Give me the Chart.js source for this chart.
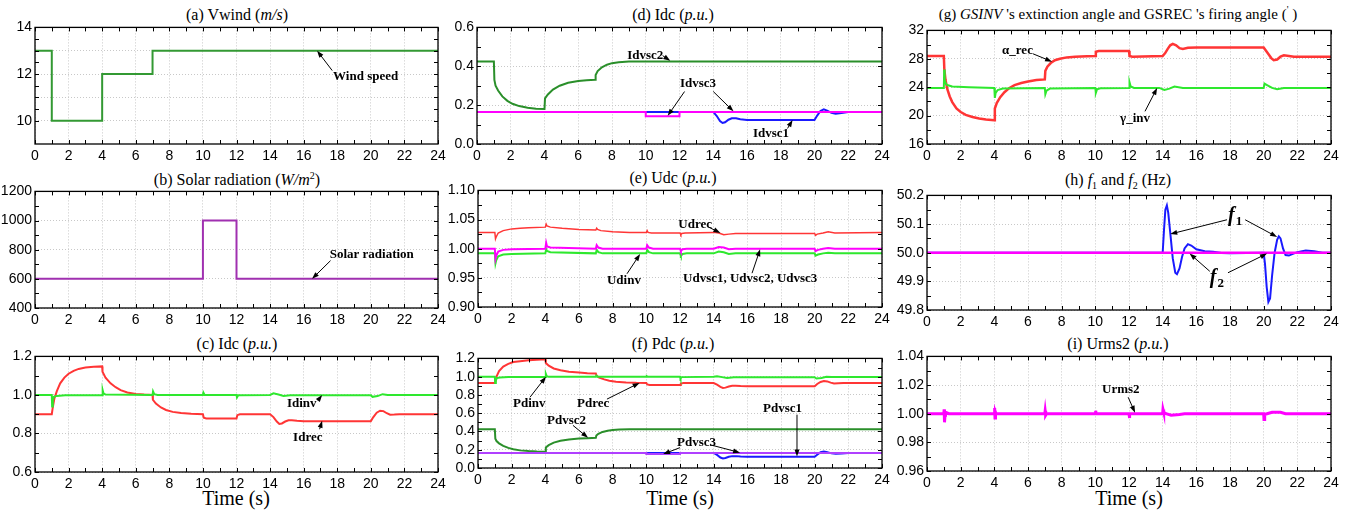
<!DOCTYPE html>
<html>
<head>
<meta charset="utf-8">
<script src="https://cdn.jsdelivr.net/npm/chart.js@4.4.1/dist/chart.umd.min.js"></script>
<style>
  body { margin: 0; background: #fff; width: 1352px; height: 512px; position: relative; overflow: hidden; }
  .ttl { position: absolute; font-family: "Liberation Serif", serif; font-size: 16px; line-height: 1; white-space: nowrap; transform: translateX(-50%); color: #000; }
  .ttl sub, .ttl sup { font-size: 10px; line-height: 0; }
  .timelbl { position: absolute; font-family: "Liberation Serif", "Times New Roman", serif; font-weight: normal; font-size: 20px; line-height: 1; white-space: nowrap; transform: translateX(-50%); color: #000; }
</style>
</head>
<body>
<div class="ttl" style="left:237px;top:7px">(a) Vwind (<i>m/s</i>)</div>
<div class="ttl" style="left:237px;top:172px">(b) Solar radiation (<i>W/m</i><sup>2</sup>)</div>
<div class="ttl" style="left:237px;top:336px">(c) Idc (<i>p.u.</i>)</div>
<div class="ttl" style="left:673px;top:7px">(d) Idc (<i>p.u.</i>)</div>
<div class="ttl" style="left:673px;top:170px">(e) Udc (<i>p.u.</i>)</div>
<div class="ttl" style="left:673px;top:336px">(f) Pdc (<i>p.u.</i>)</div>
<div class="ttl" style="left:1118px;top:7px;font-size:15px">(g) <i>GSINV</i> 's extinction angle and GSREC 's firing angle (<sup>'</sup> )</div>
<div class="ttl" style="left:1118px;top:172px">(h) <i>f</i><sub>1</sub> and <i>f</i><sub>2</sub> (Hz)</div>
<div class="ttl" style="left:1118px;top:336px">(i) Urms2 (<i>p.u.</i>)</div>
<div class="timelbl" style="left:236px;top:488px">Time (s)</div>
<div class="timelbl" style="left:680px;top:488px">Time (s)</div>
<div class="timelbl" style="left:1129px;top:488px">Time (s)</div>
<script>
// ---- data ----
var xTicks = [0, 2, 4, 6, 8, 10, 12, 14, 16, 18, 20, 22, 24];

// (a) wind speed
var tWind = [0, 1, 1, 4, 4, 7, 7, 24];
var windSpeed = [13, 13, 10, 10, 12, 12, 13, 13];
var yTicksA = [10, 11, 12, 13, 14];

// (b) solar radiation
var tSolar = [0, 10, 10, 12, 12, 24];
var solar = [600, 600, 1000, 1000, 600, 600];
var yTicksB = [400, 600, 800, 1000, 1200];

// (c) Idc
var tIdrec = [0, 1, 1.05, 1.15, 1.3, 1.5, 1.75, 2, 2.3, 2.6, 3, 3.5, 4, 4.02, 4.2, 4.5, 4.8, 5.1, 5.5, 6, 6.5, 7, 7.02, 7.2, 7.5, 7.8, 8.2, 8.7, 9.3, 10, 10.05, 10.2, 12, 12.05, 12.2, 14, 14.2, 14.4, 14.55, 14.7, 14.9, 15.1, 15.3, 15.6, 16, 20, 20.15, 20.35, 20.55, 20.75, 20.95, 21.15, 21.4, 21.7, 24];
var idrec = [0.9, 0.9, 0.93, 0.98, 1.02, 1.06, 1.09, 1.11, 1.125, 1.135, 1.142, 1.146, 1.148, 1.12, 1.09, 1.06, 1.04, 1.025, 1.013, 1.005, 1.002, 1.0, 0.975, 0.955, 0.935, 0.922, 0.912, 0.906, 0.902, 0.9, 0.882, 0.878, 0.878, 0.895, 0.9, 0.9, 0.885, 0.862, 0.849, 0.852, 0.862, 0.868, 0.869, 0.866, 0.864, 0.864, 0.885, 0.908, 0.918, 0.916, 0.905, 0.897, 0.898, 0.9, 0.9];
var tIdinv = [0, 1, 1.02, 1.06, 1.12, 1.3, 1.8, 4, 4.03, 4.08, 4.2, 7, 7.03, 7.1, 7.3, 10, 10.03, 10.1, 12, 12.03, 12.1, 14, 14.2, 14.5, 14.8, 15.2, 20, 20.1, 20.4, 20.7, 21, 21.5, 24];
var idinv = [1.0, 1.0, 0.94, 0.97, 0.99, 0.995, 0.998, 0.998, 1.025, 1.008, 1.002, 1.0, 1.018, 1.004, 1.0, 1.0, 1.012, 1.0, 1.0, 0.987, 0.998, 1.0, 1.008, 1.002, 0.995, 0.998, 0.998, 0.99, 0.994, 1.004, 1.0, 1.0, 1.0];
var yTicksC = [0.6, 0.8, 1.0, 1.2];

// (d) Idc of the VSCs
var tVsc2 = [0, 1, 1.03, 1.1, 1.25, 1.5, 1.8, 2.1, 2.5, 3, 3.5, 4, 4.03, 4.2, 4.5, 4.9, 5.4, 6, 6.5, 7, 7.03, 7.15, 7.4, 7.7, 8, 8.4, 9, 10, 24];
var idvsc2 = [0.425, 0.425, 0.33, 0.3, 0.275, 0.245, 0.222, 0.207, 0.195, 0.187, 0.182, 0.18, 0.235, 0.255, 0.28, 0.3, 0.315, 0.324, 0.328, 0.33, 0.355, 0.375, 0.395, 0.408, 0.416, 0.421, 0.424, 0.425, 0.425];
var tVsc1 = [0, 14, 14.2, 14.4, 14.55, 14.7, 14.9, 15.1, 15.35, 15.6, 16, 20, 20.15, 20.35, 20.55, 20.75, 21, 21.25, 21.6, 22, 24];
var idvsc1 = [0.165, 0.165, 0.145, 0.118, 0.108, 0.112, 0.125, 0.132, 0.132, 0.127, 0.124, 0.124, 0.145, 0.17, 0.178, 0.172, 0.16, 0.156, 0.16, 0.165, 0.165];
var tVsc3 = [0, 10, 10, 12, 12, 24];
var idvsc3 = [0.165, 0.165, 0.143, 0.143, 0.165, 0.165];
var yTicksD = [0, 0.2, 0.4, 0.6];

// (e) Udc
var tUdc = [0, 1, 1.04, 1.08, 1.2, 1.5, 2, 2.5, 3, 4, 4.05, 4.1, 4.3, 5, 6, 7, 7.05, 7.1, 7.3, 8, 9, 10, 10.05, 10.1, 10.3, 12, 12.05, 12.1, 12.3, 14, 14.3, 14.6, 14.9, 15.3, 20, 20.05, 20.15, 20.5, 20.8, 21.2, 24];
var udrec = [1.028, 1.028, 1.017, 1.02, 1.027, 1.031, 1.034, 1.035, 1.036, 1.037, 1.042, 1.039, 1.037, 1.035, 1.033, 1.032, 1.035, 1.033, 1.031, 1.029, 1.028, 1.028, 1.031, 1.028, 1.027, 1.027, 1.024, 1.026, 1.027, 1.028, 1.027, 1.024, 1.025, 1.026, 1.026, 1.023, 1.025, 1.027, 1.029, 1.027, 1.028];
var tUdv = [0, 1, 1.04, 1.08, 1.2, 1.5, 2, 4, 4.05, 4.1, 4.3, 7, 7.05, 7.15, 7.4, 10, 10.05, 10.15, 10.4, 12, 12.05, 12.15, 12.4, 14, 14.3, 14.6, 14.9, 15.3, 20, 20.05, 20.2, 20.5, 20.8, 21.2, 24];
var udvsc = [1.0, 1.0, 0.983, 0.988, 0.995, 0.998, 0.999, 1.0, 1.01, 1.004, 1.002, 1.0, 1.006, 1.002, 1.0, 1.0, 1.006, 1.002, 1.0, 1.0, 0.996, 0.999, 1.0, 1.0, 1.003, 1.002, 0.999, 1.0, 1.0, 0.996, 0.998, 1.0, 1.001, 1.0, 1.0];
var udinv = [0.992, 0.992, 0.975, 0.98, 0.987, 0.99, 0.991, 0.992, 0.999, 0.996, 0.994, 0.992, 0.998, 0.994, 0.992, 0.992, 0.998, 0.994, 0.992, 0.992, 0.988, 0.991, 0.992, 0.992, 0.995, 0.994, 0.991, 0.992, 0.992, 0.988, 0.99, 0.992, 0.993, 0.992, 0.992];
var yTicksE = [0.9, 0.95, 1.0, 1.05, 1.1];

// (f) Pdc
var tPdrec = [0, 1, 1.04, 1.1, 1.25, 1.5, 1.8, 2.1, 2.5, 3, 3.5, 4, 4.03, 4.2, 4.5, 4.9, 5.4, 6, 6.5, 7, 7.05, 7.2, 7.5, 7.8, 8.2, 8.8, 9.4, 10, 10.05, 10.2, 12, 12.05, 12.2, 14, 14.2, 14.4, 14.55, 14.7, 14.9, 15.1, 15.3, 15.6, 16, 20, 20.15, 20.35, 20.55, 20.75, 20.95, 21.15, 21.4, 21.7, 24];
var pdrec = [0.93, 0.93, 0.95, 1.0, 1.06, 1.11, 1.14, 1.16, 1.17, 1.18, 1.186, 1.19, 1.15, 1.12, 1.09, 1.07, 1.055, 1.045, 1.038, 1.035, 1.01, 0.99, 0.97, 0.955, 0.945, 0.937, 0.933, 0.932, 0.915, 0.91, 0.91, 0.925, 0.93, 0.93, 0.912, 0.888, 0.876, 0.88, 0.892, 0.9, 0.9, 0.897, 0.895, 0.895, 0.92, 0.942, 0.952, 0.948, 0.935, 0.925, 0.927, 0.93, 0.93];
var tPdinv = [0, 1, 1.02, 1.06, 1.12, 1.3, 1.8, 4, 4.03, 4.08, 4.2, 7, 7.03, 7.1, 10, 10.03, 10.1, 12, 12.03, 12.1, 14, 14.2, 14.5, 14.8, 15.2, 20, 20.1, 20.4, 20.7, 21, 24];
var pdinv = [1.0, 1.0, 0.93, 0.96, 0.985, 0.99, 0.995, 0.995, 1.03, 1.005, 0.998, 0.998, 1.01, 0.998, 0.998, 1.005, 0.998, 0.998, 0.98, 0.995, 0.998, 1.005, 0.995, 0.985, 0.993, 0.993, 0.98, 0.985, 0.998, 0.996, 0.996];
var pdvsc2 = [0.425, 0.425, 0.32, 0.295, 0.27, 0.243, 0.22, 0.205, 0.193, 0.185, 0.18, 0.178, 0.225, 0.25, 0.278, 0.298, 0.313, 0.322, 0.327, 0.33, 0.355, 0.375, 0.395, 0.408, 0.416, 0.421, 0.424, 0.425, 0.425];
var pdvsc1 = [0.165, 0.165, 0.143, 0.115, 0.105, 0.11, 0.123, 0.13, 0.13, 0.126, 0.124, 0.124, 0.145, 0.172, 0.18, 0.174, 0.16, 0.155, 0.16, 0.165, 0.165];
var pdvsc3 = [0.165, 0.165, 0.152, 0.152, 0.165, 0.165];
var yTicksF = [0, 0.2, 0.4, 0.6, 0.8, 1.0, 1.2];

// (g) angles
var tAlpha = [0, 1, 1.03, 1.1, 1.2, 1.35, 1.5, 1.75, 2, 2.3, 2.7, 3.1, 3.5, 4, 4.03, 4.15, 4.35, 4.6, 4.9, 5.2, 5.6, 6, 6.5, 7, 7.03, 7.15, 7.35, 7.6, 7.9, 8.3, 8.8, 9.5, 10, 10.03, 10.2, 12, 12.03, 12.2, 14, 14.15, 14.3, 14.45, 14.6, 14.8, 15, 15.2, 15.5, 16, 20, 20.15, 20.3, 20.45, 20.6, 20.8, 21, 21.2, 21.5, 21.8, 24];
var alphaRec = [28.4, 28.4, 26.5, 25, 23.8, 22.7, 21.9, 21.0, 20.5, 20.1, 19.8, 19.6, 19.45, 19.35, 21, 21.8, 22.6, 23.3, 23.9, 24.3, 24.6, 24.8, 25, 25.1, 26.3, 26.9, 27.4, 27.8, 28.0, 28.2, 28.3, 28.35, 28.4, 29, 29.1, 29.1, 28.4, 28.3, 28.4, 28.8, 29.4, 29.9, 30.1, 29.9, 29.5, 29.4, 29.55, 29.6, 29.6, 29.1, 28.6, 28.1, 27.8, 27.9, 28.3, 28.5, 28.4, 28.3, 28.3];
var tGamma = [0, 1, 1.02, 1.05, 1.12, 1.2, 1.5, 2.5, 4, 4.03, 4.08, 4.2, 4.5, 7, 7.03, 7.1, 7.3, 10, 10.03, 10.1, 10.3, 12, 12.03, 12.1, 12.3, 13.8, 14.1, 14.4, 14.7, 15.2, 20, 20.05, 20.2, 20.5, 20.8, 21.2, 24];
var gammaInv = [23.9, 23.9, 26.5, 25.0, 24.5, 24.3, 24.1, 24.0, 23.9, 22.5, 23.2, 23.6, 23.8, 23.9, 23.0, 23.5, 23.8, 23.9, 23.2, 23.7, 23.85, 23.9, 24.7, 24.1, 23.9, 23.9, 23.6, 23.8, 24.1, 23.9, 23.9, 24.5, 24.3, 23.9, 23.7, 23.9, 23.9];
var yTicksG = [16, 20, 24, 28, 32];

// (h) frequencies
var tF1 = [0, 14, 14.08, 14.16, 14.25, 14.33, 14.45, 14.6, 14.75, 14.85, 15, 15.15, 15.3, 15.5, 15.7, 16, 16.5, 17, 17.5, 18, 19, 20, 20.08, 20.18, 20.28, 20.38, 20.5, 20.65, 20.8, 20.9, 21.0, 21.15, 21.3, 21.5, 21.7, 22, 22.5, 23, 23.5, 24];
var f1 = [50, 50, 50.08, 50.15, 50.165, 50.14, 50.07, 49.98, 49.93, 49.925, 49.945, 49.985, 50.015, 50.03, 50.025, 50.012, 50.005, 50.003, 49.999, 49.998, 49.999, 50, 49.96, 49.88, 49.828, 49.84, 49.92, 50.0, 50.045, 50.057, 50.05, 50.015, 49.992, 49.99, 49.995, 50.002, 50.008, 50.005, 50.0, 50.0];
var tF2 = [0, 24];
var f2 = [50, 50];
var yTicksH = [49.8, 49.9, 50.0, 50.1, 50.2];

// (i) Urms2
var tUrms = [0, 1, 1.02, 1.04, 1.07, 1.1, 1.3, 4, 4.02, 4.04, 4.07, 4.1, 7, 7.02, 7.05, 7.1, 10, 10.02, 10.05, 12, 12.02, 12.05, 14, 14.02, 14.06, 14.2, 14.5, 15, 15.3, 20, 20.02, 20.06, 20.2, 20.5, 21, 21.3, 21.5, 24];
var urms2 = [1.0, 1.0, 1.003, 0.994, 0.999, 1.001, 1.0, 1.0, 1.004, 0.997, 1.001, 1.0, 1.0, 1.002, 0.999, 1.0, 1.0, 1.002, 1.0, 1.0, 0.997, 1.0, 1.0, 1.003, 1.001, 1.0, 0.999, 0.9995, 1.0, 1.0, 0.996, 0.9995, 1.0, 1.001, 1.001, 1.0, 1.0, 1.0];
var yTicksI = [0.96, 0.98, 1.0, 1.02, 1.04];

// ---- colours ----
var RED = '#ff3535', LGREEN = '#2ee82e', DGREEN = '#2a8f2a', BLUE = '#1a1aff', MAGENTA = '#ff00ff';

var PADL = 40, PADR = 12, PADT = 8, PADB = 22;

function pts(t, v) {
  return t.map(function (x, i) { return { x: x, y: v[i] }; });
}

// box + inward ticks, matlab style
var frame = {
  id: 'frame',
  afterDatasetsDraw: function (chart) {
    var ctx = chart.ctx, a = chart.chartArea, x = chart.scales.x, y = chart.scales.y;
    ctx.save();
    ctx.strokeStyle = '#000';
    ctx.lineWidth = 1.3;
    ctx.strokeRect(a.left, a.top, a.right - a.left, a.bottom - a.top);
    ctx.lineWidth = 1;
    ctx.beginPath();
    for (var v = 0; v <= 24; v++) {
      var px = Math.round(x.getPixelForValue(v)) + 0.5;
      ctx.moveTo(px, a.bottom); ctx.lineTo(px, a.bottom - 4);
      ctx.moveTo(px, a.top); ctx.lineTo(px, a.top + 4);
    }
    var yt = y.ticks;
    for (var i = 0; i < yt.length; i++) {
      var vals = [yt[i].value];
      if (i < yt.length - 1) vals.push((yt[i].value + yt[i + 1].value) / 2);
      vals.forEach(function (val) {
        var py = Math.round(y.getPixelForValue(val)) + 0.5;
        ctx.moveTo(a.left, py); ctx.lineTo(a.left + 4, py);
        ctx.moveTo(a.right, py); ctx.lineTo(a.right - 4, py);
      });
    }
    ctx.stroke();
    ctx.restore();
  }
};

function notesPlugin(notes) {
  return {
    id: 'notes',
    afterDraw: function (chart) {
      var ctx = chart.ctx, x = chart.scales.x, y = chart.scales.y;
      ctx.save();
      ctx.fillStyle = '#000';
      ctx.strokeStyle = '#000';
      notes.forEach(function (n) {
        var tx = x.getPixelForValue(n.at[0]), ty = y.getPixelForValue(n.at[1]);
        ctx.textBaseline = 'middle';
        ctx.textAlign = 'left';
        if (n.sub) {
          ctx.font = 'italic bold 20px "Liberation Serif"';
          ctx.fillText(n.text, tx, ty);
          var w = ctx.measureText(n.text).width;
          ctx.font = 'bold 13px "Liberation Serif"';
          ctx.fillText(n.sub, tx + w + 1, ty + 6);
        } else {
          ctx.font = 'bold 13px "Liberation Serif"';
          ctx.fillText(n.text, tx, ty);
        }
        n.arrows.forEach(function (ar) {
          var x1 = x.getPixelForValue(ar[0]), y1 = y.getPixelForValue(ar[1]);
          var x2 = x.getPixelForValue(ar[2]), y2 = y.getPixelForValue(ar[3]);
          var ang = Math.atan2(y2 - y1, x2 - x1);
          ctx.lineWidth = 1;
          ctx.beginPath();
          ctx.moveTo(x1, y1);
          ctx.lineTo(x2 - 5 * Math.cos(ang), y2 - 5 * Math.sin(ang));
          ctx.stroke();
          ctx.beginPath();
          ctx.moveTo(x2, y2);
          ctx.lineTo(x2 - 7 * Math.cos(ang) + 2.5 * Math.sin(ang), y2 - 7 * Math.sin(ang) - 2.5 * Math.cos(ang));
          ctx.lineTo(x2 - 7 * Math.cos(ang) - 2.5 * Math.sin(ang), y2 - 7 * Math.sin(ang) + 2.5 * Math.cos(ang));
          ctx.closePath();
          ctx.fill();
        });
      });
      ctx.restore();
    }
  };
}

function panel(p) {
  var cv = document.createElement('canvas');
  cv.width = p.w + PADL + PADR;
  cv.height = p.h + PADT + PADB;
  cv.style.cssText = 'position:absolute;left:' + (p.l - PADL) + 'px;top:' + (p.t - PADT) + 'px';
  document.body.appendChild(cv);
  var tickFont = { family: 'Liberation Sans', size: 14 };
  new Chart(cv.getContext('2d'), {
    type: 'line',
    data: {
      datasets: p.series.map(function (s) {
        return {
          data: pts(s.t, s.v),
          borderColor: s.color,
          borderWidth: s.width || 2,
          pointRadius: 0,
          tension: 0,
          fill: false
        };
      })
    },
    options: {
      responsive: false,
      animation: false,
      layout: { padding: { top: PADT, right: PADR, left: 0, bottom: 0 } },
      plugins: { legend: { display: false }, tooltip: { enabled: false } },
      scales: {
        x: {
          type: 'linear', min: 0, max: 24,
          afterBuildTicks: function (s) { s.ticks = xTicks.map(function (v) { return { value: v }; }); },
          afterFit: function (s) { s.height = PADB; },
          grid: { color: '#c8c8c8', lineWidth: 1, drawTicks: false },
          border: { display: false, dash: [1, 2] },
          ticks: { font: tickFont, color: '#000', padding: 4, maxRotation: 0, autoSkip: false }
        },
        y: {
          min: p.yMin, max: p.yMax,
          afterBuildTicks: function (s) { s.ticks = p.yTicks.map(function (v) { return { value: v }; }); },
          afterFit: function (s) { s.width = PADL; },
          grid: { color: '#c8c8c8', lineWidth: 1, drawTicks: false },
          border: { display: false, dash: [1, 2] },
          ticks: {
            font: tickFont, color: '#000', padding: 3, autoSkip: false,
            callback: function (v) {
              if (p.evenOnly && v % 2 !== 0) return '';
              return v.toFixed(p.dec);
            }
          }
        }
      }
    },
    plugins: [frame, notesPlugin(p.notes)]
  });
}

panel({
  l: 35, t: 24, w: 403, h: 120, yMin: 9, yMax: 14, yTicks: yTicksA, dec: 0, evenOnly: true,
  series: [{ t: tWind, v: windSpeed, color: '#339933' }],
  notes: [{ text: 'Wind speed', at: [17.75, 11.9], arrows: [[17.7, 12.15, 16.8, 13]] }]
});
panel({
  l: 35, t: 188, w: 403, h: 120, yMin: 400, yMax: 1200, yTicks: yTicksB, dec: 0,
  series: [{ t: tSolar, v: solar, color: '#a030b0' }],
  notes: [{ text: 'Solar radiation', at: [17.55, 767], arrows: [[17.6, 725, 16.5, 600]] }]
});
panel({
  l: 35, t: 353, w: 403, h: 119, yMin: 0.6, yMax: 1.2, yTicks: yTicksC, dec: 1,
  series: [{ t: tIdinv, v: idinv, color: LGREEN }, { t: tIdrec, v: idrec, color: RED }],
  notes: [
    { text: 'Idinv', at: [15.0, 0.953], arrows: [[16.85, 0.972, 17.1, 1.0]] },
    { text: 'Idrec', at: [15.37, 0.777], arrows: [[16.95, 0.822, 17.1, 0.866]] }
  ]
});
panel({
  l: 477, t: 24, w: 405, h: 120, yMin: 0, yMax: 0.6, yTicks: yTicksD, dec: 1,
  series: [{ t: tVsc3, v: idvsc3, color: MAGENTA }, { t: tVsc1, v: idvsc1, color: BLUE }, { t: tVsc2, v: idvsc2, color: DGREEN }],
  notes: [
    { text: 'Idvsc2', at: [8.9, 0.455], arrows: [[11.0, 0.455, 11.45, 0.428]] },
    { text: 'Idvsc3', at: [12.03, 0.31], arrows: [[12.3, 0.27, 11.3, 0.145], [14.0, 0.27, 15.2, 0.168]] },
    { text: 'Idvsc1', at: [16.35, 0.055], arrows: [[18.4, 0.08, 18.7, 0.124]] }
  ]
});
panel({
  l: 478, t: 187, w: 404, h: 120, yMin: 0.9, yMax: 1.1, yTicks: yTicksE, dec: 2,
  series: [{ t: tUdv, v: udvsc, color: MAGENTA }, { t: tUdv, v: udinv, color: LGREEN }, { t: tUdc, v: udrec, color: RED, width: 1.5 }],
  notes: [
    { text: 'Udrec', at: [11.9, 1.041], arrows: [[13.7, 1.037, 14.4, 1.027]] },
    { text: 'Udinv', at: [7.66, 0.945], arrows: [[8.85, 0.957, 9.63, 0.991]] },
    { text: 'Udvsc1, Udvsc2, Udvsc3', at: [12.18, 0.948], arrows: [[16.28, 0.958, 16.76, 0.999]] }
  ]
});
panel({
  l: 478, t: 355, w: 404, h: 113, yMin: 0, yMax: 1.2, yTicks: yTicksF, dec: 1,
  series: [
    { t: tVsc3, v: pdvsc3, color: '#b040ff' }, { t: tVsc1, v: pdvsc1, color: BLUE },
    { t: tVsc2, v: pdvsc2, color: DGREEN }, { t: tPdinv, v: pdinv, color: LGREEN }, { t: tPdrec, v: pdrec, color: RED }
  ],
  notes: [
    { text: 'Pdinv', at: [2.08, 0.70], arrows: [[3.09, 0.775, 4.04, 1.0]] },
    { text: 'Pdrec', at: [5.88, 0.70], arrows: [[7.66, 0.754, 9.6, 0.932]] },
    { text: 'Pdvsc2', at: [4.1, 0.52], arrows: [[5.64, 0.467, 6.54, 0.33]] },
    { text: 'Pdvsc1', at: [16.93, 0.648], arrows: [[18.95, 0.584, 18.95, 0.125]] },
    { text: 'Pdvsc3', at: [11.82, 0.276], arrows: [[12.0, 0.223, 11.0, 0.152], [13.78, 0.255, 15.57, 0.168]] }
  ]
});
panel({
  l: 927, t: 27, w: 404, h: 117, yMin: 16, yMax: 32, yTicks: yTicksG, dec: 0,
  series: [{ t: tGamma, v: gammaInv, color: LGREEN }, { t: tAlpha, v: alphaRec, color: RED, width: 2.5 }],
  notes: [
    { text: 'α_rec', at: [4.46, 29.1], arrows: [[6.3, 28.7, 7.43, 27.6]] },
    { text: 'γ_inv', at: [11.47, 19.55], arrows: [[12.95, 20.6, 13.67, 23.9]] }
  ]
});
panel({
  l: 927, t: 192, w: 404, h: 118, yMin: 49.8, yMax: 50.2, yTicks: yTicksH, dec: 1,
  series: [{ t: tF2, v: f2, color: MAGENTA, width: 2.5 }, { t: tF1, v: f1, color: BLUE }],
  notes: [
    { text: 'f', sub: '1', at: [17.88, 50.129], arrows: [[17.82, 50.115, 14.45, 50.065], [18.9, 50.115, 20.8, 50.055]] },
    { text: 'f', sub: '2', at: [16.8, 49.912], arrows: [[16.8, 49.935, 15.6, 49.997], [17.88, 49.93, 20.2, 49.997]] }
  ]
});
panel({
  l: 927, t: 353, w: 404, h: 118, yMin: 0.96, yMax: 1.04, yTicks: yTicksI, dec: 2,
  series: [{ t: tUrms, v: urms2, color: MAGENTA, width: 3 }],
  notes: [{ text: 'Urms2', at: [10.4, 1.017], arrows: [[11.95, 1.0115, 12.36, 1.0007]] }]
});
</script>
</body>
</html>
